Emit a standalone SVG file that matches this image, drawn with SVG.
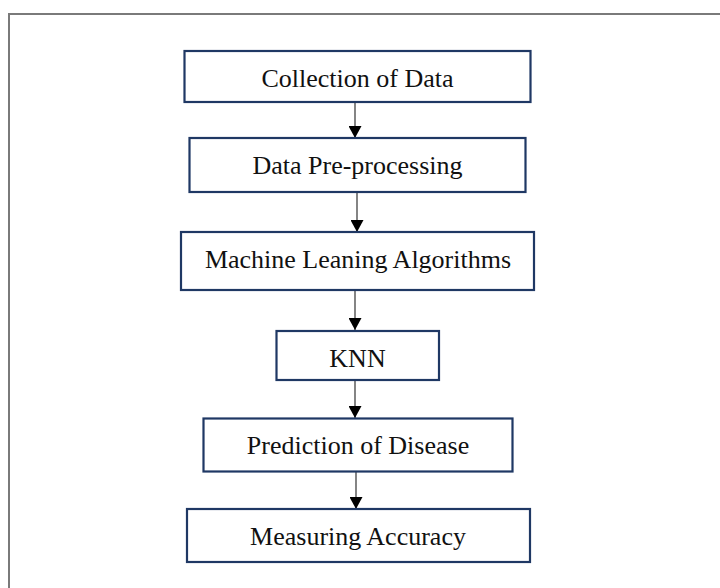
<svg xmlns="http://www.w3.org/2000/svg" width="720" height="588" viewBox="0 0 720 588">
  <defs>
    <marker id="arrow" viewBox="0 0 12 13" refX="12" refY="6.5" markerWidth="12" markerHeight="13" markerUnits="userSpaceOnUse" orient="auto">
      <path d="M0,0 L12,6.5 L0,13 Z" fill="#000"/>
    </marker>
    <style>
      .frame { stroke: #7a7a7a; stroke-width: 2; fill: none; }
      .box { fill: #fff; stroke: #1f3864; stroke-width: 2.2; }
      .label { font-family: "Liberation Serif", "Times New Roman", serif; font-size: 26px; fill: #111; text-anchor: middle; }
      .link { stroke: #333; stroke-width: 1.2; fill: none; marker-end: url(#arrow); }
    </style>
  </defs>
  <rect width="720" height="588" fill="#fff"/>
  <!-- page frame (left and top edges) -->
  <path class="frame" d="M9,588 V14 H720"/>

  <g id="connectors">
    <line class="link" x1="355" y1="102" x2="355" y2="138"/>
    <line class="link" x1="357" y1="192" x2="357" y2="232"/>
    <line class="link" x1="355" y1="290" x2="355" y2="330"/>
    <line class="link" x1="355" y1="380" x2="355" y2="418"/>
    <line class="link" x1="356" y1="472" x2="356" y2="509"/>
  </g>

  <g id="collection">
    <rect class="box" x="184.5" y="51" width="346" height="51"/>
    <text class="label" x="357.5" y="86.5">Collection of Data</text>
  </g>
  <g id="preprocessing">
    <rect class="box" x="189.5" y="138" width="336" height="54"/>
    <text class="label" x="357.5" y="173.5">Data Pre-processing</text>
  </g>
  <g id="algorithms">
    <rect class="box" x="181" y="232" width="353" height="58"/>
    <text class="label" x="358" y="268">Machine Leaning Algorithms</text>
  </g>
  <g id="knn">
    <rect class="box" x="276.5" y="331" width="162.5" height="49"/>
    <text class="label" x="357.5" y="366.5">KNN</text>
  </g>
  <g id="prediction">
    <rect class="box" x="203.5" y="418.5" width="309" height="53"/>
    <text class="label" x="358" y="453.5">Prediction of Disease</text>
  </g>
  <g id="accuracy">
    <rect class="box" x="187" y="509" width="343" height="53"/>
    <text class="label" x="358" y="545">Measuring Accuracy</text>
  </g>
</svg>
